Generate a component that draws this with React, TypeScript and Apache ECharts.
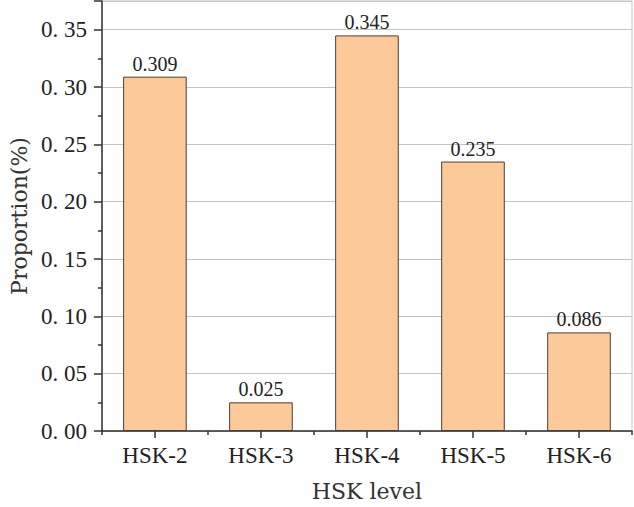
import React, { useEffect, useRef } from "react";
import * as echarts from "echarts";

const categories = ["HSK-2", "HSK-3", "HSK-4", "HSK-5", "HSK-6"];
const proportions = [0.309, 0.025, 0.345, 0.235, 0.086];
const yTicks = [0, 0.05, 0.1, 0.15, 0.2, 0.25, 0.3, 0.35];

export default function App() {
  const ref = useRef<HTMLDivElement>(null);
  useEffect(() => {
    if (!ref.current) return;
    const chart = echarts.init(ref.current, null, { renderer: "svg" });
    const axisFont = "'Liberation Serif', serif";
    const titleFont = "'DejaVu Serif', serif";
    chart.setOption({
      animation: false,
      backgroundColor: "#ffffff",
      grid: {
        left: 98,
        right: 2,
        top: 1,
        bottom: 76,
        show: true,
        borderColor: "#c4c4c4",
        borderWidth: 1,
      },
      xAxis: [
        {
          type: "category",
          data: categories,
          name: "HSK level",
          nameLocation: "middle",
          nameGap: 49,
          nameTextStyle: { fontFamily: titleFont, fontSize: 22, color: "#333" },
          axisLine: { show: true, lineStyle: { color: "#333", width: 1.5 } },
          axisTick: { show: true, alignWithLabel: true, length: 7, lineStyle: { color: "#333", width: 1.5 } },
          axisLabel: { fontFamily: axisFont, fontSize: 23, color: "#222", margin: 13 },
          splitLine: { show: false },
        },
        {
          type: "category",
          data: categories,
          position: "bottom",
          axisLine: { show: false },
          axisTick: { show: true, length: 4, lineStyle: { color: "#333", width: 1.5 } },
          axisLabel: { show: false },
          splitLine: { show: false },
        },
      ],
      yAxis: {
        type: "value",
        min: 0,
        max: 0.375,
        interval: 0.05,
        name: "Proportion(%)",
        nameLocation: "middle",
        nameGap: 70,
        nameTextStyle: { fontFamily: titleFont, fontSize: 22, color: "#333" },
        axisLine: { show: true, lineStyle: { color: "#333", width: 1.5 } },
        axisTick: { show: true, length: 8, lineStyle: { color: "#333", width: 1.5 } },
        minorTick: { show: true, splitNumber: 2, length: 4, lineStyle: { color: "#333", width: 1.5 } },
        axisLabel: {
          fontFamily: axisFont,
          fontSize: 23,
          color: "#222",
          margin: 15,
          formatter: (v: number) =>
            yTicks.some((t) => Math.abs(t - v) < 1e-9) ? v.toFixed(2).replace(".", ". ") : "",
        },
        splitLine: { show: true, lineStyle: { color: "#c4c4c4", width: 1 } },
      },
      series: [
        {
          type: "bar",
          data: proportions,
          barWidth: "60%",
          itemStyle: { color: "#FDC998", borderColor: "#4a3f38", borderWidth: 1 },
          label: {
            show: true,
            position: "top",
            distance: 3,
            fontFamily: "'Liberation Serif', serif",
            fontSize: 20,
            color: "#222",
            formatter: (p: any) => p.value.toFixed(3),
          },
        },
      ],
    });
    return () => chart.dispose();
  }, []);
  return <div ref={ref} style={{ width: 634, height: 507, position: "absolute", left: 0, top: 0 }} />;
}
